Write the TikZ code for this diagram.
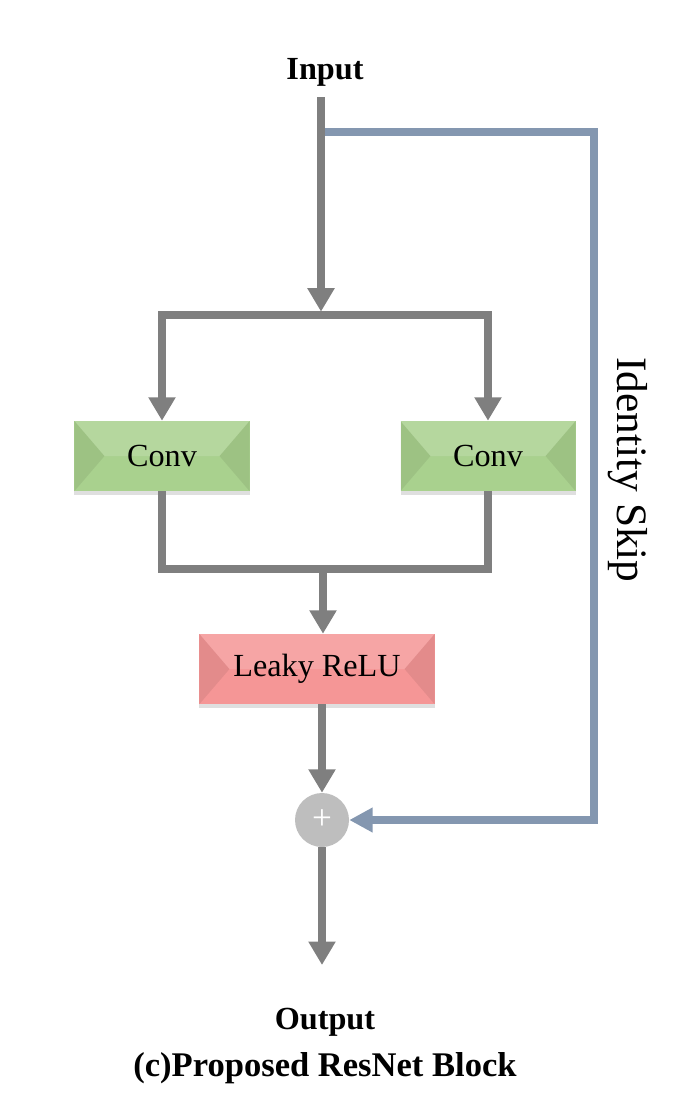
\documentclass[tikz,border=0pt]{standalone}
\usepackage{fontspec}
\setmainfont{Liberation Serif}
\usetikzlibrary{arrows.meta,positioning,shadows}
\definecolor{convgreen}{RGB}{169,209,142}
\definecolor{relupink}{RGB}{245,150,150}
\definecolor{flowgray}{RGB}{127,127,127}
\definecolor{skipblue}{RGB}{132,151,176}
\definecolor{sumgray}{RGB}{190,190,190}

\begin{document}
\begin{tikzpicture}[x=0.03cm,y=-0.03cm,
  every node/.style={font=\fontsize{27.5}{30}\selectfont},
  title/.style={font=\fontsize{27.5}{30}\selectfont\bfseries},
  block/.style={fill=#1,minimum width=5.25cm,minimum height=2.1cm,inner sep=0pt,
    drop shadow={shadow xshift=0pt,shadow yshift=-3.5pt,opacity=.25},
    path picture={
      \fill[black,opacity=.07] (path picture bounding box.north west) -- ([xshift=.9cm]path picture bounding box.west) -- (path picture bounding box.south west) -- cycle;
      \fill[black,opacity=.07] (path picture bounding box.north east) -- ([xshift=-.9cm]path picture bounding box.east) -- (path picture bounding box.south east) -- cycle;
      \fill[white,opacity=.15] (path picture bounding box.north west) -- (path picture bounding box.north east) -- ([xshift=-.9cm]path picture bounding box.east) -- ([xshift=.9cm]path picture bounding box.west) -- cycle;
    }},
  sum/.style={circle,fill=sumgray,minimum size=1.62cm,inner sep=0pt,text=white,font=\fontsize{30}{30}\selectfont},
  flow/.style={draw=flowgray,line width=6.8pt},
  arr/.style={flow,-{Triangle[width=22pt,length=20pt]}},
  skiparr/.style={draw=skipblue,line width=6pt,-{Triangle[width=20pt,length=20pt]}}
]
\useasboundingbox (0,0) rectangle (695,1113);
% labels
\node[title] (in) at (325,72) {Input};
\node[title] (outtxt) at (325,1022) {Output};
\node[title,font=\fontsize{29.5}{32}\selectfont\bfseries] (cap) at (325,1068) {(c)Proposed ResNet Block};
\node[rotate=-90,font=\fontsize{37}{40}\selectfont] (idt) at (628,470) {Identity Skip};
% blocks
\node[block=convgreen] (c1) at (162,456) {Conv};
\node[block=convgreen] (c2) at (488,456) {Conv};
\node[block=relupink,minimum width=7.05cm] (relu) at (317,669) {Leaky ReLU};
\node[sum] (sum) at (322,820) {+};
% points
\coordinate (top) at (321,97);
\coordinate (skip) at (321,132);
\coordinate (split) at (321,315);
\coordinate (merge) at (323,569);
\coordinate (corner1) at (594,132);
\coordinate (corner2) at (594,820);
\coordinate (out) at (322,965);
% skip path
\draw[skiparr] (skip) -- (corner1) -- (corner2) -- (sum);
% main path
\draw[arr] (top) -- ([yshift=.1cm]split);
\draw[arr] (split) -| (c1.north);
\draw[arr] (split) -| (c2.north);
\draw[flow] (c1.south) |- (merge) -| (c2.south);
\draw[arr] (merge) -- (merge |- relu.north);
\draw[arr] (relu.south -| sum) -- (sum);
\draw[arr] (sum) -- (out);
\end{tikzpicture}
\end{document}
